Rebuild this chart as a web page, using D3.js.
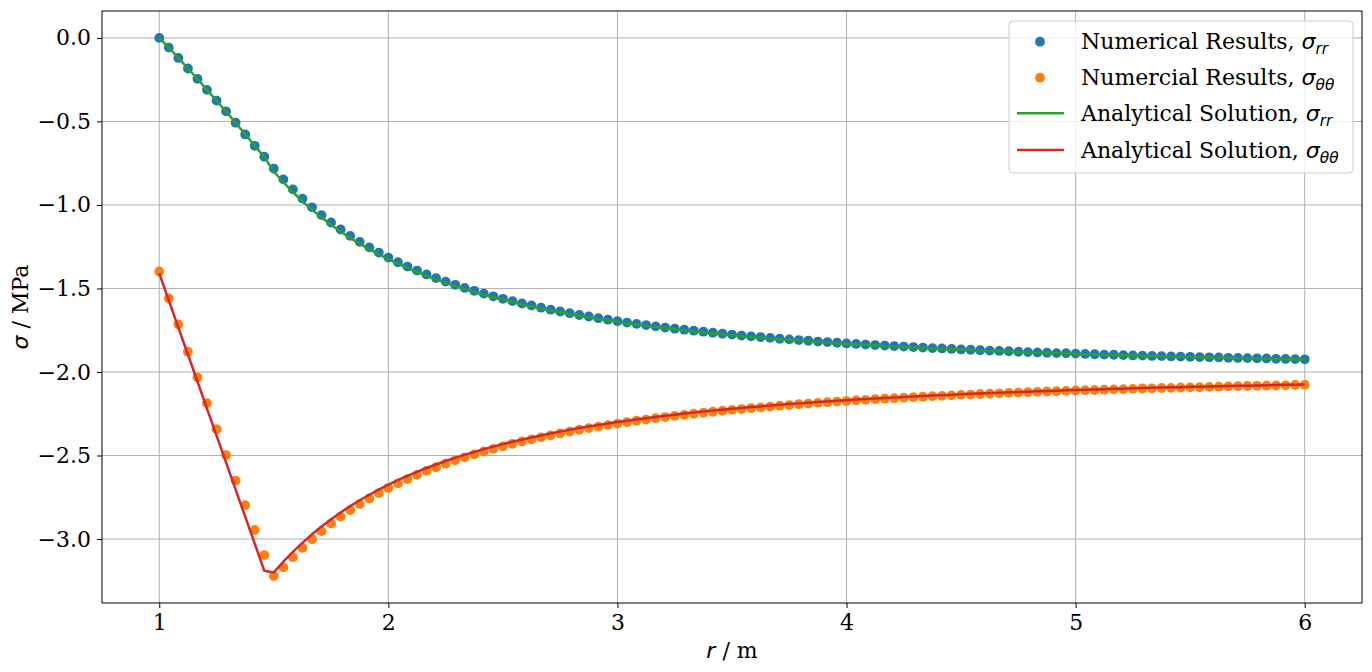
<!DOCTYPE html>
<html><head><meta charset="utf-8">
<script src="https://cdn.jsdelivr.net/npm/d3@7"></script>
<style>body{margin:0;background:#fff}svg{display:block}</style>
</head><body>
<svg id="chart" width="1372" height="672"></svg>
<script>
// ---- data ----
const radius = [1, 1.0417, 1.0833, 1.125, 1.1667, 1.2083, 1.25, 1.2917, 1.3333, 1.375, 1.4167, 1.4583,
 1.5, 1.5417, 1.5833, 1.625, 1.6667, 1.7083, 1.75, 1.7917, 1.8333, 1.875, 1.9167, 1.9583,
 2, 2.0417, 2.0833, 2.125, 2.1667, 2.2083, 2.25, 2.2917, 2.3333, 2.375, 2.4167, 2.4583,
 2.5, 2.5417, 2.5833, 2.625, 2.6667, 2.7083, 2.75, 2.7917, 2.8333, 2.875, 2.9167, 2.9583,
 3, 3.0417, 3.0833, 3.125, 3.1667, 3.2083, 3.25, 3.2917, 3.3333, 3.375, 3.4167, 3.4583,
 3.5, 3.5417, 3.5833, 3.625, 3.6667, 3.7083, 3.75, 3.7917, 3.8333, 3.875, 3.9167, 3.9583,
 4, 4.0417, 4.0833, 4.125, 4.1667, 4.2083, 4.25, 4.2917, 4.3333, 4.375, 4.4167, 4.4583,
 4.5, 4.5417, 4.5833, 4.625, 4.6667, 4.7083, 4.75, 4.7917, 4.8333, 4.875, 4.9167, 4.9583,
 5, 5.0417, 5.0833, 5.125, 5.1667, 5.2083, 5.25, 5.2917, 5.3333, 5.375, 5.4167, 5.4583,
 5.5, 5.5417, 5.5833, 5.625, 5.6667, 5.7083, 5.75, 5.7917, 5.8333, 5.875, 5.9167, 5.9583, 6];

const numSrr = [0, -0.058, -0.120, -0.183, -0.245, -0.311, -0.375, -0.440, -0.508, -0.578, -0.646, -0.711,
 -0.782, -0.847, -0.907, -0.962, -1.014, -1.061, -1.105, -1.147, -1.185, -1.221,
 -1.254, -1.285, -1.315, -1.343, -1.369, -1.393, -1.416, -1.438, -1.459, -1.478,
 -1.497, -1.514, -1.531, -1.547, -1.562, -1.576, -1.590, -1.602, -1.615, -1.627,
 -1.638, -1.648, -1.659, -1.668, -1.678, -1.687, -1.696, -1.704, -1.712, -1.719,
 -1.727, -1.734, -1.741, -1.747, -1.753, -1.759, -1.765, -1.771, -1.776, -1.782,
 -1.787, -1.791, -1.796, -1.801, -1.805, -1.809, -1.813, -1.818, -1.821, -1.825,
 -1.829, -1.832, -1.836, -1.839, -1.842, -1.845, -1.848, -1.851, -1.854, -1.857,
 -1.859, -1.862, -1.865, -1.867, -1.870, -1.872, -1.874, -1.876, -1.879, -1.881,
 -1.883, -1.885, -1.887, -1.888, -1.890, -1.892, -1.894, -1.896, -1.897, -1.899,
 -1.901, -1.902, -1.904, -1.905, -1.907, -1.908, -1.909, -1.911, -1.912, -1.913,
 -1.915, -1.916, -1.917, -1.918, -1.919, -1.921, -1.922, -1.923, -1.924];

const numStt = [-1.398, -1.560, -1.715, -1.879, -2.032, -2.187, -2.343, -2.498, -2.650, -2.797, -2.946, -3.096,
 -3.222, -3.170, -3.109, -3.053, -3.001, -2.953, -2.908, -2.866, -2.827, -2.791,
 -2.757, -2.725, -2.695, -2.667, -2.641, -2.616, -2.592, -2.570, -2.549, -2.529,
 -2.511, -2.493, -2.476, -2.460, -2.445, -2.430, -2.416, -2.403, -2.391, -2.379,
 -2.368, -2.357, -2.346, -2.336, -2.327, -2.318, -2.309, -2.301, -2.292, -2.285,
 -2.277, -2.270, -2.263, -2.257, -2.250, -2.244, -2.238, -2.232, -2.227, -2.222,
 -2.217, -2.212, -2.207, -2.202, -2.198, -2.193, -2.189, -2.185, -2.181, -2.177,
 -2.174, -2.170, -2.167, -2.163, -2.160, -2.157, -2.154, -2.151, -2.148, -2.145,
 -2.143, -2.140, -2.137, -2.135, -2.132, -2.130, -2.128, -2.125, -2.123, -2.121,
 -2.119, -2.117, -2.115, -2.113, -2.111, -2.109, -2.108, -2.106, -2.104, -2.103,
 -2.101, -2.099, -2.098, -2.096, -2.095, -2.093, -2.092, -2.091, -2.089, -2.088,
 -2.086, -2.085, -2.084, -2.083, -2.082, -2.081, -2.080, -2.078, -2.077];

const anaSrr = [0, -0.058, -0.120, -0.183, -0.246, -0.311, -0.376, -0.441, -0.508, -0.577, -0.645, -0.714,
 -0.800, -0.864, -0.923, -0.978, -1.028, -1.075, -1.118, -1.159, -1.197, -1.232,
 -1.265, -1.296, -1.325, -1.352, -1.378, -1.402, -1.425, -1.446, -1.467, -1.486,
 -1.504, -1.521, -1.538, -1.553, -1.568, -1.582, -1.596, -1.608, -1.620, -1.632,
 -1.643, -1.654, -1.664, -1.673, -1.683, -1.691, -1.700, -1.708, -1.716, -1.724,
 -1.731, -1.738, -1.744, -1.751, -1.757, -1.763, -1.769, -1.774, -1.780, -1.785,
 -1.790, -1.795, -1.799, -1.804, -1.808, -1.812, -1.816, -1.820, -1.824, -1.828,
 -1.831, -1.835, -1.838, -1.841, -1.845, -1.847, -1.850, -1.853, -1.856, -1.859,
 -1.862, -1.864, -1.867, -1.869, -1.872, -1.874, -1.876, -1.878, -1.880, -1.882,
 -1.884, -1.886, -1.888, -1.890, -1.892, -1.894, -1.896, -1.897, -1.899, -1.900,
 -1.902, -1.904, -1.905, -1.907, -1.908, -1.909, -1.911, -1.912, -1.913, -1.915,
 -1.916, -1.917, -1.918, -1.920, -1.921, -1.922, -1.923, -1.924, -1.925];

const anaStt = [-1.410, -1.572, -1.734, -1.895, -2.057, -2.219, -2.381, -2.543, -2.704, -2.866, -3.028, -3.190,
 -3.200, -3.136, -3.077, -3.023, -2.972, -2.925, -2.882, -2.841, -2.803, -2.768,
 -2.735, -2.704, -2.675, -2.648, -2.622, -2.598, -2.575, -2.554, -2.533, -2.514,
 -2.496, -2.479, -2.462, -2.447, -2.432, -2.418, -2.405, -2.392, -2.380, -2.368,
 -2.357, -2.346, -2.336, -2.327, -2.318, -2.309, -2.300, -2.292, -2.284, -2.277,
 -2.269, -2.262, -2.256, -2.249, -2.243, -2.237, -2.231, -2.226, -2.220, -2.215,
 -2.210, -2.206, -2.201, -2.196, -2.192, -2.188, -2.184, -2.180, -2.176, -2.172,
 -2.169, -2.165, -2.162, -2.159, -2.156, -2.153, -2.150, -2.147, -2.144, -2.141,
 -2.139, -2.136, -2.133, -2.131, -2.129, -2.126, -2.124, -2.122, -2.120, -2.118,
 -2.116, -2.114, -2.112, -2.110, -2.108, -2.106, -2.105, -2.103, -2.101, -2.100,
 -2.098, -2.096, -2.095, -2.093, -2.092, -2.091, -2.089, -2.088, -2.087, -2.085,
 -2.084, -2.083, -2.082, -2.081, -2.079, -2.078, -2.077, -2.076, -2.075];

const xTicks = [1, 2, 3, 4, 5, 6];
const yTicks = [0, -0.5, -1.0, -1.5, -2.0, -2.5, -3.0];
const legendLabels = ["Numerical Results, ", "Numercial Results, ", "Analytical Solution, ", "Analytical Solution, "];
const legendSubs = ["rr", "θθ", "rr", "θθ"];

[numSrr, numStt, anaSrr, anaStt].forEach((a, i) => {
  if (a.length !== radius.length) throw new Error("length mismatch in series " + i + ": " + a.length);
});

// ---- layout ----
const svg = d3.select("#chart");
const W = 1372, H = 672;
const m = {left: 102, top: 11, right: 10, bottom: 69};
const pw = W - m.left - m.right, ph = H - m.top - m.bottom;
const serif = "'DejaVu Serif', serif";
const sans = "'DejaVu Sans', sans-serif";
const fs = 22;
const dotR = 4.9, lw = 2.5;

const x = d3.scaleLinear().domain([0.75, 6.25]).range([0, pw]);
const yMin = -3.222, yMax = 0;
const pad = (yMax - yMin) * 0.05;
const y = d3.scaleLinear().domain([yMin - pad, yMax + pad]).range([ph, 0]);

const g = svg.append("g").attr("transform", `translate(${m.left},${m.top})`);

// grid
g.append("g").selectAll("line").data(xTicks).join("line")
  .attr("x1", d => x(d)).attr("x2", d => x(d)).attr("y1", 0).attr("y2", ph)
  .attr("stroke", "#b0b0b0").attr("stroke-width", 1);
g.append("g").selectAll("line").data(yTicks).join("line")
  .attr("y1", d => y(d)).attr("y2", d => y(d)).attr("x1", 0).attr("x2", pw)
  .attr("stroke", "#b0b0b0").attr("stroke-width", 1);

// axes
const fmtY = d3.format(".1f");
const xAxis = g.append("g").attr("transform", `translate(0,${ph})`)
  .call(d3.axisBottom(x).tickValues(xTicks).tickFormat(d3.format("d")).tickSize(5).tickPadding(6));
const yAxis = g.append("g")
  .call(d3.axisLeft(y).tickValues(yTicks).tickFormat(fmtY).tickSize(5).tickPadding(6));
[xAxis, yAxis].forEach(a => {
  a.select(".domain").remove();
  a.selectAll("text").attr("font-family", serif).attr("font-size", fs).attr("fill", "#000");
  a.selectAll("line").attr("stroke", "#000");
});

// data marks
const pts = (vals) => radius.map((r, i) => [r, vals[i]]);
g.append("g").selectAll("circle").data(pts(numSrr)).join("circle")
  .attr("cx", d => x(d[0])).attr("cy", d => y(d[1])).attr("r", dotR).attr("fill", "#1f77b4");
g.append("g").selectAll("circle").data(pts(numStt)).join("circle")
  .attr("cx", d => x(d[0])).attr("cy", d => y(d[1])).attr("r", dotR).attr("fill", "#ff7f0e");
const line = d3.line().x(d => x(d[0])).y(d => y(d[1]));
g.append("path").datum(pts(anaSrr)).attr("d", line).attr("fill", "none")
  .attr("stroke", "#2ca02c").attr("stroke-width", lw).attr("stroke-linejoin", "round");
g.append("path").datum(pts(anaStt)).attr("d", line).attr("fill", "none")
  .attr("stroke", "#d62728").attr("stroke-width", lw).attr("stroke-linejoin", "round");

// frame
g.append("rect").attr("x", 0).attr("y", 0).attr("width", pw).attr("height", ph)
  .attr("fill", "none").attr("stroke", "#000").attr("stroke-width", 1);

// axis labels
const xl = svg.append("text").attr("x", m.left + pw / 2).attr("y", 658)
  .attr("text-anchor", "middle").attr("font-size", fs).attr("font-family", serif);
xl.append("tspan").attr("font-family", sans).attr("font-style", "italic").text("r");
xl.append("tspan").text(" / m");
const yl = svg.append("text").attr("transform", `translate(28,${m.top + ph / 2}) rotate(-90)`)
  .attr("text-anchor", "middle").attr("font-size", fs).attr("font-family", serif);
yl.append("tspan").attr("font-family", sans).attr("font-style", "italic").text("σ");
yl.append("tspan").text(" / MPa");

// legend
const lg = svg.append("g").attr("transform", "translate(1009,21)");
lg.append("rect").attr("width", 344).attr("height", 152).attr("rx", 4)
  .attr("fill", "#fff").attr("fill-opacity", 0.8).attr("stroke", "#cccccc").attr("stroke-width", 1);
const rowsY = [20.7, 56.7, 92.3, 129];
const kinds = [
  {type: "dot", color: "#1f77b4"}, {type: "dot", color: "#ff7f0e"},
  {type: "line", color: "#2ca02c"}, {type: "line", color: "#d62728"}];
kinds.forEach((k, i) => {
  const cy = rowsY[i];
  if (k.type === "dot") lg.append("circle").attr("cx", 31).attr("cy", cy).attr("r", dotR).attr("fill", k.color);
  else lg.append("line").attr("x1", 8).attr("x2", 55).attr("y1", cy).attr("y2", cy)
    .attr("stroke", k.color).attr("stroke-width", lw);
  const t = lg.append("text").attr("x", 72).attr("y", cy + 7.5).attr("font-size", fs).attr("font-family", serif);
  t.append("tspan").text(legendLabels[i]);
  t.append("tspan").attr("font-family", sans).attr("font-style", "italic").text("σ");
  t.append("tspan").attr("font-family", sans).attr("font-style", "italic")
    .attr("font-size", fs * 0.7).attr("dy", 5).text(legendSubs[i]);
});
</script>
</body></html>
